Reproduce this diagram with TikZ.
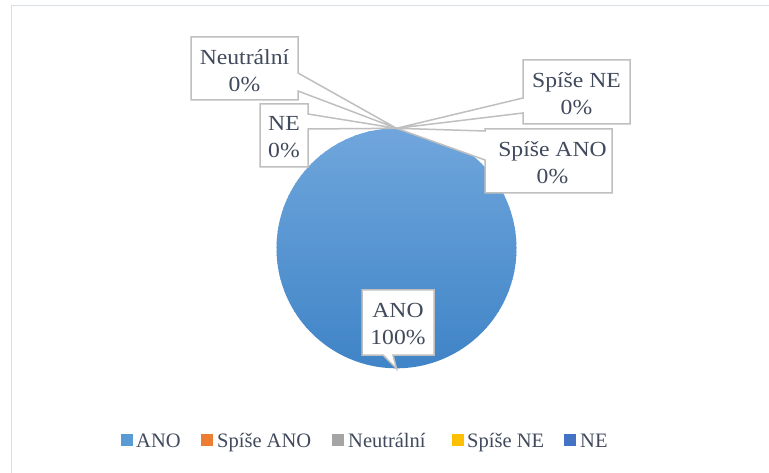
\documentclass[tikz,border=0pt]{standalone}
\usepackage{fontspec}
\setmainfont{Liberation Serif}
\newfontfamily\lblfont{Liberation Serif}[FakeStretch=1.1]
\usetikzlibrary{calc}
\definecolor{txt}{HTML}{404A5C}
\definecolor{edge}{HTML}{BFBFBF}
\definecolor{framec}{HTML}{D9DEE5}
\definecolor{pieTop}{HTML}{70A6DC}
\definecolor{pieBot}{HTML}{3F84C7}
\definecolor{cAno}{HTML}{5B9BD5}
\definecolor{cSano}{HTML}{ED7D31}
\definecolor{cNeu}{HTML}{A5A5A5}
\definecolor{cSne}{HTML}{FFC000}
\definecolor{cNe}{HTML}{4472C4}
\tikzset{
  boxnode/.style={draw=none, inner sep=0pt, outer sep=0pt, rectangle},
  callout/.style={draw=edge, fill=white, line width=1.5pt, line join=miter},
  lbltext/.style={text=txt, align=center, inner sep=0pt, font=\lblfont\fontsize{21.5}{27}\selectfont},
  legsq/.style={inner sep=0pt, minimum size=11.5pt, draw=none},
  legtxt/.style={text=txt, inner sep=0pt, anchor=base west, font=\fontsize{20.5}{24}\selectfont},
}
\begin{document}
\begin{tikzpicture}[x=1pt,y=-1pt]
\useasboundingbox (0,0) rectangle (769,473);
% frame
\draw[framec, line width=1.5pt] (11.5,473) -- (11.5,5.5) -- (769,5.5);
% pie (vertical gradient built from thin strips)
\node[circle, minimum size=240pt, inner sep=0pt, draw=none] (pie) at (396.5,248.5) {};
\begin{scope}
  \clip (pie.north) arc[start angle=-90, end angle=270, radius=120] -- cycle;
  \foreach \i in {0,...,60} {
    \pgfmathsetmacro{\pc}{100-\i*100/60}
    \fill[pieTop!\pc!pieBot] ($(pie.center)+(-121,-121+\i*4)$) rectangle ($(pie.center)+(121,-121+\i*4+4.6)$);
  }
\end{scope}
\coordinate (tip) at (pie.north);
% label boxes
\node[boxnode, minimum width=107pt, minimum height=63pt] (neu) at (244.5,68.5) {};
\node[boxnode, minimum width=48pt, minimum height=63pt] (ne) at (284,135.5) {};
\node[boxnode, minimum width=107pt, minimum height=64pt] (sne) at (576.5,92) {};
\node[boxnode, minimum width=127pt, minimum height=64pt] (sano) at (548.5,161) {};
\node[boxnode, minimum width=72pt, minimum height=65pt] (ano) at (398,322.5) {};
% callouts
\draw[callout] (neu.north west) -- (neu.north east) -- ($(neu.north east)+(0,36)$) -- (tip)
  -- ($(neu.north east)+(0,54)$) -- (neu.south east) -- (neu.south west) -- cycle;
\draw[callout] (ne.north west) -- (ne.north east) -- ($(ne.north east)+(0,10)$) -- (tip)
  -- ($(ne.north east)+(0,25)$) -- (ne.south east) -- (ne.south west) -- cycle;
\draw[callout] (sne.north west) -- (sne.north east) -- (sne.south east) -- (sne.south west)
  -- ($(sne.north west)+(0,53)$) -- (tip) -- ($(sne.north west)+(0,38)$) -- cycle;
\draw[callout] (sano.north west) -- (sano.north east) -- (sano.south east) -- (sano.south west)
  -- ($(sano.north west)+(0,31)$) -- (tip) -- ($(sano.north west)+(0,2)$) -- cycle;
\draw[callout] (ano.north west) -- (ano.north east) -- (ano.south east)
  -- ($(ano.south west)+(31,0)$) -- (pie.south) -- ($(ano.south west)+(21,0)$) -- (ano.south west) -- cycle;
% label texts
\node[lbltext] (tneu) at ($(neu.center)+(0,2.5)$) {Neutrální\\0\%};
\node[lbltext] (tne) at ($(ne.center)+(0,2)$) {NE\\0\%};
\node[lbltext] (tsne) at ($(sne.center)+(0,1.5)$) {Spíše NE\\0\%};
\node[lbltext] (tsano) at ($(sano.center)+(4,1.5)$) {Spíše ANO\\0\%};
\node[lbltext] (tano) at ($(ano.center)+(0,1.5)$) {ANO\\100\%};
% legend
\node[legsq, fill=cAno] (q1) at (127,440) {};
\node[legtxt] (l1) at (136,447) {ANO};
\node[legsq, fill=cSano] (q2) at (207,440) {};
\node[legtxt] (l2) at (217,447) {Spíše ANO};
\node[legsq, fill=cNeu] (q3) at (338,440) {};
\node[legtxt] (l3) at (348,447) {Neutrální};
\node[legsq, fill=cSne] (q4) at (458,440) {};
\node[legtxt] (l4) at (467,447) {Spíše NE};
\node[legsq, fill=cNe] (q5) at (570,440) {};
\node[legtxt] (l5) at (580,447) {NE};
\end{tikzpicture}
\end{document}
